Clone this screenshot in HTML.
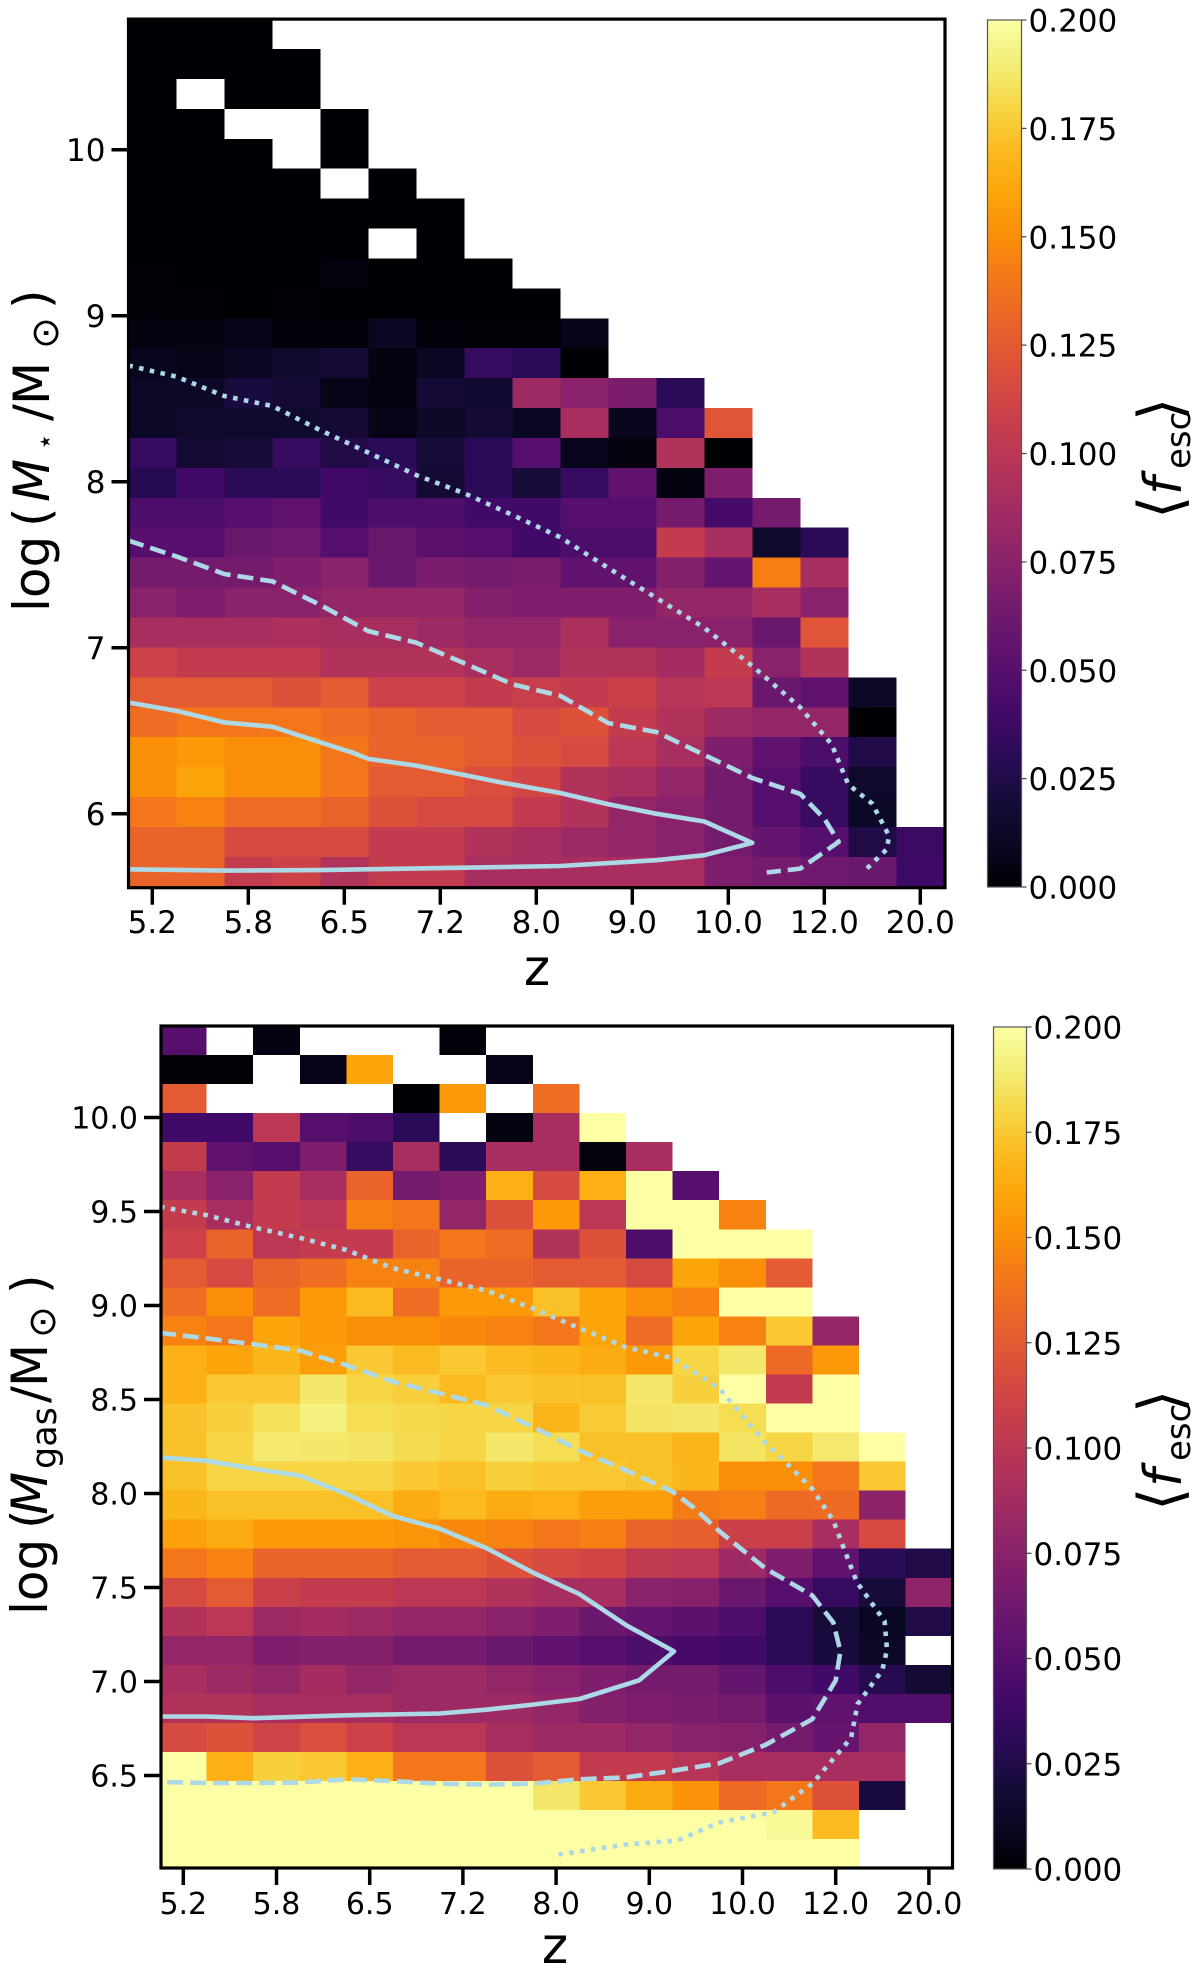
<!DOCTYPE html>
<html lang="en">
<head>
<meta charset="utf-8">
<title>Mean escape fraction versus redshift and mass</title>
<style>
html,body{margin:0;padding:0;background:#fff;}
svg{display:block;font-family:"DejaVu Sans","Liberation Sans",sans-serif;fill:#000;}
</style>
</head>
<body>
<svg id="figure" width="1200" height="1981" viewBox="0 0 1200 1981" xmlns="http://www.w3.org/2000/svg">
  <defs>
    <linearGradient id="infernoGradient" x1="0" y1="1" x2="0" y2="0"></linearGradient>
  </defs>
  <g id="panelTop"></g>
  <g id="panelBottom"></g>

  <text transform="translate(49,612) rotate(-90)" font-size="50">
    <tspan x="0">log</tspan><tspan x="85">(</tspan><tspan x="110" font-style="italic">M</tspan><tspan x="164" y="1" font-size="14">★</tspan><tspan x="191" y="0">/</tspan><tspan x="207">M</tspan><tspan x="263" y="9" font-size="38">⊙</tspan><tspan x="303" y="0">)</tspan>
  </text>
  <text transform="translate(47,1615) rotate(-90)" font-size="50">
    <tspan x="0">log</tspan><tspan x="86">(</tspan><tspan x="100" font-style="italic">M</tspan><tspan x="146" y="9" font-size="35">gas</tspan><tspan x="212" y="0">/</tspan><tspan x="228">M</tspan><tspan x="277" y="8" font-size="38">⊙</tspan><tspan x="321" y="0">)</tspan>
  </text>
  <text transform="translate(1181,511) rotate(-90)" font-size="52">
    <tspan x="-8" font-size="60">⟨</tspan><tspan x="16" font-style="italic">f</tspan><tspan x="42" y="9" font-size="34">esc</tspan><tspan x="90" y="0" font-size="60">⟩</tspan>
  </text>
  <text transform="translate(1181,1503) rotate(-90)" font-size="52">
    <tspan x="-8" font-size="60">⟨</tspan><tspan x="16" font-style="italic">f</tspan><tspan x="42" y="9" font-size="34">esc</tspan><tspan x="90" y="0" font-size="60">⟩</tspan>
  </text>
  <text x="537" y="985" font-size="50" text-anchor="middle">z</text>
  <text x="555" y="1963" font-size="50" text-anchor="middle">z</text>
</svg>

<script>
const N = null;

// Redshift labels shown on every second bin
const zTickLabels = ["5.2","5.8","6.5","7.2","8.0","9.0","10.0","12.0","20.0"];
const zTickBins = [0,2,4,6,8,10,12,14,16];

// Mass ticks and colourbar ticks
const stellarMassTicks = [6,7,8,9,10];
const gasMassTicks = [6.5,7.0,7.5,8.0,8.5,9.0,9.5,10.0];
const colorbarTicks = [0,0.025,0.05,0.075,0.1,0.125,0.15,0.175,0.2];

// Mean f_esc per bin, rows from highest mass to lowest, columns by redshift bin
const stellarFesc = [
[0,0,0],
[0,0,0,0],
[0,N,0,0],
[0,0,N,N,0],
[0,0,0,N,0],
[0,0,0,0,N,0],
[0,0,0,0,0,0,0],
[0,0,0,0,.0005,N,0],
[.001,0,0,0,.003,0,0,0],
[.001,.001,0,.001,0,0,0,0,0],
[.004,.004,.006,.002,.002,.01,.002,.001,.001,.006],
[.008,.006,.01,.014,.018,.004,.01,.035,.03,0],
[.012,.012,.022,.018,.006,.005,.018,.016,.085,.075,.068,.03],
[.012,.014,.014,.014,.018,.006,.012,.018,.01,.09,.008,.045,.122],
[.035,.018,.02,.035,.025,.03,.02,.03,.05,.008,.003,.095,0],
[.028,.04,.03,.03,.04,.035,.018,.03,.02,.035,.055,.004,.07],
[.045,.045,.05,.055,.04,.045,.045,.04,.04,.05,.05,.065,.042,.065],
[.05,.05,.06,.062,.05,.06,.052,.05,.04,.045,.045,.105,.09,.014,.03],
[.065,.065,.065,.07,.075,.06,.068,.065,.068,.055,.055,.072,.058,.143,.09],
[.075,.07,.075,.075,.08,.08,.08,.072,.07,.07,.07,.08,.08,.09,.075],
[.09,.09,.09,.092,.09,.09,.085,.08,.08,.092,.075,.075,.075,.06,.122],
[.11,.105,.105,.105,.095,.095,.095,.09,.085,.095,.095,.088,.105,.075,.095],
[.125,.125,.125,.12,.125,.11,.11,.105,.107,.105,.108,.098,.1,.06,.055,.012],
[.135,.14,.14,.14,.135,.13,.125,.125,.115,.12,.105,.095,.085,.08,.08,0],
[.15,.155,.15,.15,.14,.13,.13,.125,.12,.115,.1,.09,.07,.055,.045,.025],
[.15,.16,.15,.15,.14,.125,.125,.118,.113,.095,.09,.08,.065,.05,.035,.014],
[.14,.145,.135,.135,.13,.12,.115,.115,.105,.095,.08,.075,.065,.05,.035,.012],
[.13,.13,.115,.115,.115,.105,.105,.095,.09,.085,.08,.075,.065,.058,.05,.025,.037],
[.13,.13,.105,.11,.095,.105,.105,.09,.09,.09,.09,.09,.07,.065,.062,.06,.038]
];

const gasFesc = [
[.05,N,.005,N,N,N,.002],
[.001,.001,N,.006,.16,N,N,.006],
[.125,N,N,N,N,0,.155,N,.135],
[.04,.04,.1,.05,.045,.03,N,.004,.09,.2],
[.105,.055,.05,.07,.035,.09,.03,.09,.09,.003,.09],
[.09,.075,.105,.09,.13,.065,.07,.165,.115,.165,.2,.05],
[.105,.09,.105,.1,.143,.14,.08,.12,.155,.1,.2,.2,.145],
[.11,.13,.1,.105,.105,.13,.14,.135,.095,.12,.045,.2,.2,.2],
[.125,.115,.13,.135,.145,.145,.13,.13,.125,.125,.115,.16,.15,.125],
[.135,.15,.135,.155,.17,.135,.155,.155,.172,.16,.15,.145,.2,.2],
[.145,.14,.16,.155,.15,.15,.148,.145,.14,.16,.135,.16,.145,.175,.08],
[.165,.16,.168,.157,.175,.17,.175,.17,.168,.163,.155,.18,.187,.133,.155],
[.165,.175,.175,.187,.18,.177,.17,.175,.173,.172,.187,.178,.2,.105,.2],
[.173,.178,.184,.192,.183,.181,.18,.18,.167,.176,.186,.187,.183,.2,.2],
[.173,.18,.188,.187,.186,.182,.18,.187,.183,.172,.172,.167,.186,.18,.188,.2],
[.172,.18,.18,.18,.18,.175,.172,.178,.175,.175,.173,.168,.15,.15,.14,.175],
[.168,.172,.172,.172,.172,.163,.17,.163,.165,.157,.157,.142,.143,.133,.134,.077],
[.158,.163,.155,.155,.155,.153,.148,.145,.14,.143,.13,.128,.108,.108,.09,.115],
[.14,.145,.13,.13,.13,.125,.125,.12,.115,.113,.103,.1,.085,.07,.055,.03,.025],
[.115,.125,.108,.105,.105,.1,.1,.095,.09,.09,.075,.073,.06,.05,.035,.02,.078],
[.095,.1,.085,.088,.085,.08,.08,.075,.07,.06,.056,.052,.045,.03,.02,.01,.025],
[.08,.08,.07,.072,.072,.065,.065,.06,.055,.05,.045,.042,.04,.03,.022,.012,N],
[.09,.085,.08,.088,.08,.085,.085,.08,.075,.07,.065,.065,.057,.045,.04,.028,.018],
[.095,.095,.09,.09,.09,.085,.085,.085,.08,.072,.07,.068,.065,.052,.055,.048,.048],
[.115,.12,.112,.118,.11,.1,.1,.09,.085,.085,.08,.075,.073,.065,.058,.08],
[.2,.165,.178,.175,.165,.14,.14,.12,.125,.105,.105,.098,.09,.09,.09,.09],
[.2,.2,.2,.2,.2,.2,.2,.2,.187,.175,.163,.152,.133,.14,.12,.022],
[.2,.2,.2,.2,.2,.2,.2,.2,.2,.2,.2,.2,.2,.197,.17],
[.2,.2,.2,.2,.2,.2,.2,.2,.2,.2,.2,.2,.2,.2,.2]
];

// Contours: bin coordinate along redshift, log mass along y
const stellarSolidBin = [-0.5,0.5,1.5,2.5,3.5,4.2,4.5,5.5,6.5,7.3,8.5,9.5,10.5,11.5,12.5,11.5,10.5,8.5,6.5,3.5,1.5,-0.5];
const stellarSolidLog = [6.67,6.62,6.55,6.524,6.43,6.365,6.33,6.29,6.233,6.187,6.125,6.057,6,5.953,5.824,5.75,5.72,5.685,5.675,5.66,5.657,5.665];
const stellarDashedBin = [-0.5,0.5,1.5,2.5,3.5,4.5,5.5,6.5,7.5,8.5,9.5,10.5,11.5,12.5,13.5,14,14.3,13.5,12.8];
const stellarDashedLog = [7.645,7.55,7.444,7.4,7.257,7.1,7.03,6.906,6.78,6.71,6.546,6.492,6.354,6.215,6.119,5.97,5.83,5.669,5.646];
const stellarDottedBin = [-0.5,0.5,1.5,2.5,3.5,4.5,5.5,6.5,7.5,8.5,9.5,10.5,11.5,12.5,13.5,14.15,14.5,15,15.35,15.3,14.8];
const stellarDottedLog = [8.7,8.633,8.516,8.456,8.31,8.175,8.04,7.93,7.8,7.665,7.48,7.3,7.12,6.89,6.64,6.42,6.176,6.06,5.866,5.785,5.646];

const gasSolidBin = [-0.5,0.5,1.5,2.5,3.5,4.5,5.5,6.5,7.5,8.5,9.5,10.53,9.78,8.5,7.5,6.5,5.5,3.5,1.5,0.5,-0.5];
const gasSolidLog = [8.192,8.174,8.132,8.095,7.997,7.88,7.813,7.71,7.58,7.465,7.3,7.16,7.006,6.907,6.877,6.85,6.83,6.82,6.805,6.814,6.814];
const gasDashedBin = [-0.5,0.5,1.5,2.5,3.5,4.5,5.5,6.5,7.5,8.5,9.5,10.5,10.95,11.5,12.5,13.5,13.95,14.1,14,13.5,12.5,11.5,10.5,9.5,8.5,7.5,6.5,5.5,4.5,3.5,2.5,1.5,0.5,-0.5];
const gasDashedLog = [8.855,8.825,8.794,8.76,8.683,8.595,8.533,8.47,8.355,8.23,8.123,8.01,7.925,7.8,7.6,7.457,7.313,7.16,7.006,6.8,6.664,6.565,6.525,6.49,6.48,6.457,6.451,6.457,6.47,6.48,6.463,6.46,6.46,6.466];
const gasDottedBin = [-0.5,0.5,1.5,2.5,3.5,4.5,5.5,6.5,7.5,8.5,9.5,10.5,11.5,12.5,12.77,13.5,13.95,14.45,15.05,15.1,15,14.47,14.33,13.5,12.66,11.5,10.6,9.5,8.05];
const gasDottedLog = [9.525,9.481,9.416,9.36,9.295,9.198,9.14,9.08,8.985,8.879,8.778,8.72,8.56,8.267,8.205,8.024,7.854,7.53,7.32,7.169,7.06,6.88,6.7,6.457,6.304,6.25,6.154,6.133,6.08];

// Inferno colour table spanning the colour scale
const infernoColors = ["#000004","#0a0722","#160b39","#2a0b57","#420a68","#570f6d","#6a176e","#7f1e6c","#932667","#a82e5f","#bb3754","#cc4248","#dd513a","#ea632a","#f3771a","#f98e09","#fca50a","#fbba1f","#f6d645","#f3ee78","#fcffa4"];
const fescMax = 0.2;

function hexRgb(h){return [1,3,5].map(function(p){return parseInt(h.substr(p,2),16);});}
function inferno(v){
  const t=Math.max(0,Math.min(1,v/fescMax))*(infernoColors.length-1);
  const i=Math.min(infernoColors.length-2,Math.floor(t));
  const f=t-i,a=hexRgb(infernoColors[i]),b=hexRgb(infernoColors[i+1]);
  return "rgb("+a.map(function(c,k){return Math.round(c+(b[k]-c)*f);}).join(",")+")";
}
const SVGNS="http://www.w3.org/2000/svg";
function mk(parent,tag,attrs,text){
  const el=document.createElementNS(SVGNS,tag);
  for(const k in attrs){el.setAttribute(k,attrs[k]);}
  if(text!==undefined){el.textContent=text;}
  parent.appendChild(el);
  return el;
}

const gradient=document.getElementById("infernoGradient");
infernoColors.forEach(function(c,i){
  mk(gradient,"stop",{offset:i/(infernoColors.length-1),"stop-color":c});
});

function drawPanel(root,cfg){
  const xOf=function(bin){return cfg.xZero+cfg.cellW*bin;};
  const yOf=function(m){return cfg.yRefPx-(m-cfg.yRefVal)*cfg.pxPerDex;};
  const cellTop=function(r){return cfg.top+r*cfg.cellH;};

  cfg.values.forEach(function(row,r){
    row.forEach(function(v,c){
      if(v===null){return;}
      const cell=mk(root,"rect",{x:xOf(c-0.5),y:cellTop(r),width:cfg.cellW,height:cfg.cellH,fill:inferno(v),"shape-rendering":"crispEdges"});
      
      
    });
  });

  cfg.lines.forEach(function(l){
    const pts=l.bins.map(function(b,i){return xOf(b).toFixed(1)+","+yOf(l.logs[i]).toFixed(1);}).join(" ");
    const line=mk(root,"polyline",{points:pts,fill:"none",stroke:"#add8e6","stroke-width":l.width,"stroke-dasharray":l.dash,"stroke-linejoin":"round"});
    
    
  });

  const frame=mk(root,"rect",{x:cfg.left,y:cfg.top,width:cfg.right-cfg.left,height:cfg.bottom-cfg.top,fill:"none",stroke:"#000","stroke-width":3.2});
  
  

  zTickBins.forEach(function(b,i){
    const x=xOf(b);
    const tick=mk(root,"line",{x1:x,x2:x,y1:cfg.bottom,y2:cfg.bottom+17,stroke:"#000","stroke-width":3.5});
    
    
    const lab=mk(root,"text",{x:x,y:cfg.xLabelY,"font-size":cfg.tickFont,"text-anchor":"middle"},zTickLabels[i]);
    
    
  });

  cfg.massTicks.forEach(function(m){
    const y=yOf(m);
    const tick=mk(root,"line",{x1:cfg.left-17,x2:cfg.left,y1:y,y2:y,stroke:"#000","stroke-width":3.5});
    
    
    const lab=mk(root,"text",{x:cfg.left-23,y:y+cfg.tickFont*0.365,"font-size":cfg.tickFont,"text-anchor":"end"},cfg.massFmt(m));
    
    
  });

  const bar=mk(root,"rect",{x:cfg.cbLeft,y:cfg.cbTop,width:cfg.cbRight-cfg.cbLeft,height:cfg.cbBottom-cfg.cbTop,fill:"url(#infernoGradient)",stroke:"#555","stroke-width":1.2});
  
  

  colorbarTicks.forEach(function(v){
    const y=cfg.cbBottom-(v/fescMax)*(cfg.cbBottom-cfg.cbTop);
    const tick=mk(root,"line",{x1:cfg.cbRight,x2:cfg.cbRight+5,y1:y,y2:y,stroke:"#444","stroke-width":1.2});
    
    
    const lab=mk(root,"text",{x:cfg.cbRight+7,y:y+11.5,"font-size":31},v.toFixed(3));
    
    
  });
}

drawPanel(document.getElementById("panelTop"),{
  values:stellarFesc,
  xZero:152.3,cellW:48,
  top:19.1,cellH:29.92,
  left:128.5,right:945,bottom:887.7,
  yRefPx:813.7,yRefVal:6,pxPerDex:166,
  massTicks:stellarMassTicks,
  massFmt:function(m){return String(m);},
  xLabelY:933,tickFont:31,
  cbLeft:987.5,cbRight:1021.5,cbTop:20,cbBottom:887,
  lines:[
    {name:"contour-solid",bins:stellarSolidBin,logs:stellarSolidLog,width:4.6,dash:"none"},
    {name:"contour-dashed",bins:stellarDashedBin,logs:stellarDashedLog,width:4.6,dash:"16 7"},
    {name:"contour-dotted",bins:stellarDottedBin,logs:stellarDottedLog,width:4.6,dash:"4.6 6.4"}
  ]
});

drawPanel(document.getElementById("panelBottom"),{
  values:gasFesc,
  xZero:183.3,cellW:46.6,
  top:1026,cellH:29.04,
  left:161,right:952.5,bottom:1868,
  yRefPx:1493.5,yRefVal:8,pxPerDex:188,
  massTicks:gasMassTicks,
  massFmt:function(m){return m.toFixed(1);},
  xLabelY:1914,tickFont:30,
  cbLeft:993.5,cbRight:1026.5,cbTop:1027,cbBottom:1869,
  lines:[
    {name:"contour-solid",bins:gasSolidBin,logs:gasSolidLog,width:4.6,dash:"none"},
    {name:"contour-dashed",bins:gasDashedBin,logs:gasDashedLog,width:4.6,dash:"16 7"},
    {name:"contour-dotted",bins:gasDottedBin,logs:gasDottedLog,width:4.6,dash:"4.6 6.4"}
  ]
});
</script>
</body>
</html>
